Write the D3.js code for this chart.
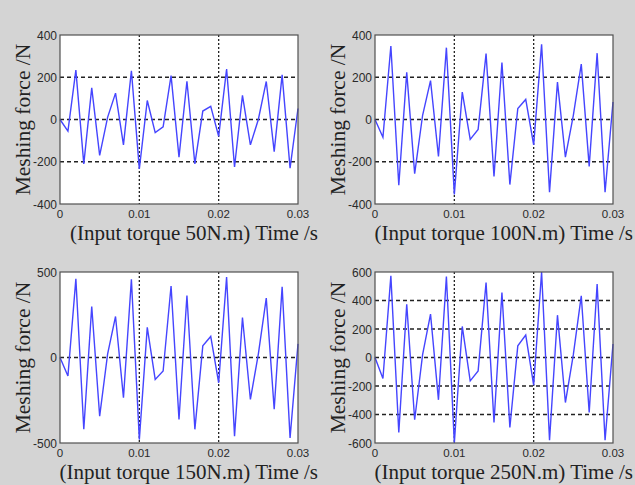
<!DOCTYPE html>
<html>
<head>
<meta charset="utf-8">
<script src="https://cdn.jsdelivr.net/npm/d3@7/dist/d3.min.js"></script>
<style>
html,body{margin:0;padding:0;background:#d4d4d4;}
svg{display:block;}
</style>
</head>
<body>
<svg id="chart" width="635" height="485"></svg>
<script>
// ---- data ----
const times = [0,0.001,0.002,0.003,0.004,0.005,0.006,0.007,0.008,0.009,0.010,
  0.011,0.012,0.013,0.014,0.015,0.016,0.017,0.018,0.019,0.020,
  0.021,0.022,0.023,0.024,0.025,0.026,0.027,0.028,0.029,0.030];

const force50  = [0,-55,234,-210,150,-170,10,125,-120,231,-234,90,-62,-35,208,-178,181,-210,40,62,-80,239,-225,114,-120,0,180,-152,211,-230,52];
const force100 = [0,-84,348,-311,223,-256,20,184,-175,340,-355,130,-94,-47,312,-270,270,-308,52,95,-120,356,-344,177,-178,20,262,-222,314,-344,83];
const force150 = [0,-108,460,-420,298,-343,20,240,-235,457,-480,176,-128,-79,418,-362,363,-420,68,123,-148,470,-460,234,-245,20,347,-303,413,-470,80];
const force250 = [0,-147,573,-526,374,-437,20,304,-297,568,-600,218,-164,-94,526,-456,456,-491,82,157,-194,600,-580,297,-316,20,433,-386,515,-580,95];

const xTicks = [0, 0.01, 0.02, 0.03];
const xTickLabels = ["0", "0.01", "0.02", "0.03"];
const yTicks50  = [-400, -200, 0, 200, 400];
const yTicks100 = [-400, -200, 0, 200, 400];
const yTicks150 = [-500, 0, 500];
const yTicks250 = [-600, -400, -200, 0, 200, 400, 600];
const captions = ["(Input torque 50N.m) Time /s", "(Input torque 100N.m) Time /s",
                  "(Input torque 150N.m) Time /s", "(Input torque 250N.m) Time /s"];
const yTitle = "Meshing force /N";

// ---- layout ----
const panels = [
  {x0:60,  x1:298, y0:35,  y1:204, vals:force50,  ticks:yTicks50,  cap:captions[0]},
  {x0:375, x1:613, y0:35,  y1:204, vals:force100, ticks:yTicks100, cap:captions[1]},
  {x0:60,  x1:298, y0:272, y1:443, vals:force150, ticks:yTicks150, cap:captions[2]},
  {x0:375, x1:613, y0:272, y1:443, vals:force250, ticks:yTicks250, cap:captions[3]}
];

const svg = d3.select("#chart");
svg.append("rect").attr("width",635).attr("height",485).attr("fill","#d4d4d4");

panels.forEach(p => {
  const ext = d3.extent(p.ticks);
  const x = d3.scaleLinear().domain([0, 0.03]).range([p.x0, p.x1]);
  const y = d3.scaleLinear().domain(ext).range([p.y1, p.y0]);
  const g = svg.append("g");

  g.append("rect").attr("x",p.x0).attr("y",p.y0)
    .attr("width",p.x1-p.x0).attr("height",p.y1-p.y0).attr("fill","#fff");

  // horizontal grid
  g.selectAll(".hg").data(p.ticks.filter(t => t!==ext[0] && t!==ext[1])).enter()
    .append("line")
    .attr("x1",p.x0).attr("x2",p.x1)
    .attr("y1",d=>y(d)).attr("y2",d=>y(d))
    .attr("stroke","#222").attr("stroke-width",1.3).attr("stroke-dasharray","4,3");
  // vertical grid
  g.selectAll(".vg").data(xTicks.slice(1,-1)).enter()
    .append("line")
    .attr("x1",d=>x(d)).attr("x2",d=>x(d))
    .attr("y1",p.y0).attr("y2",p.y1)
    .attr("stroke","#222").attr("stroke-width",1.3).attr("stroke-dasharray","2,2");

  // line
  const line = d3.line().x((d,i)=>x(times[i])).y(d=>y(d));
  g.append("path").datum(p.vals).attr("d",line)
    .attr("fill","none").attr("stroke","#4545ff").attr("stroke-width",1.4)
    .attr("stroke-linejoin","miter");

  // border
  g.append("rect").attr("x",p.x0).attr("y",p.y0)
    .attr("width",p.x1-p.x0).attr("height",p.y1-p.y0)
    .attr("fill","none").attr("stroke","#505050").attr("stroke-width",1.2);

  // y tick labels
  g.selectAll(".yt").data(p.ticks).enter().append("text")
    .attr("x",p.x0-3).attr("y",d=>y(d)+4.5)
    .attr("text-anchor","end")
    .attr("font-family","Liberation Sans, Arial, sans-serif")
    .attr("font-size",12).attr("fill","#2a2a2a")
    .text(d=>d);
  // x tick labels
  g.selectAll(".xt").data(xTicks).enter().append("text")
    .attr("x",d=>x(d)).attr("y",p.y1+14)
    .attr("text-anchor","middle")
    .attr("font-family","Liberation Sans, Arial, sans-serif")
    .attr("font-size",11.5).attr("fill","#2a2a2a")
    .text((d,i)=>xTickLabels[i]);

  // x caption
  g.append("text").attr("x",p.x1+20).attr("y",p.y1+36)
    .attr("text-anchor","end")
    .attr("font-family","Liberation Serif, Times New Roman, serif")
    .attr("font-size",21).attr("fill","#222")
    .text(p.cap);
  // y title
  const cy = (p.y0+p.y1)/2;
  const bx = p.x0-30;
  g.append("text")
    .attr("transform",`translate(${bx},${cy}) rotate(-90)`)
    .attr("text-anchor","middle")
    .attr("font-family","Liberation Serif, Times New Roman, serif")
    .attr("font-size",21.5).attr("fill","#222")
    .text(yTitle);
});
</script>
</body>
</html>
